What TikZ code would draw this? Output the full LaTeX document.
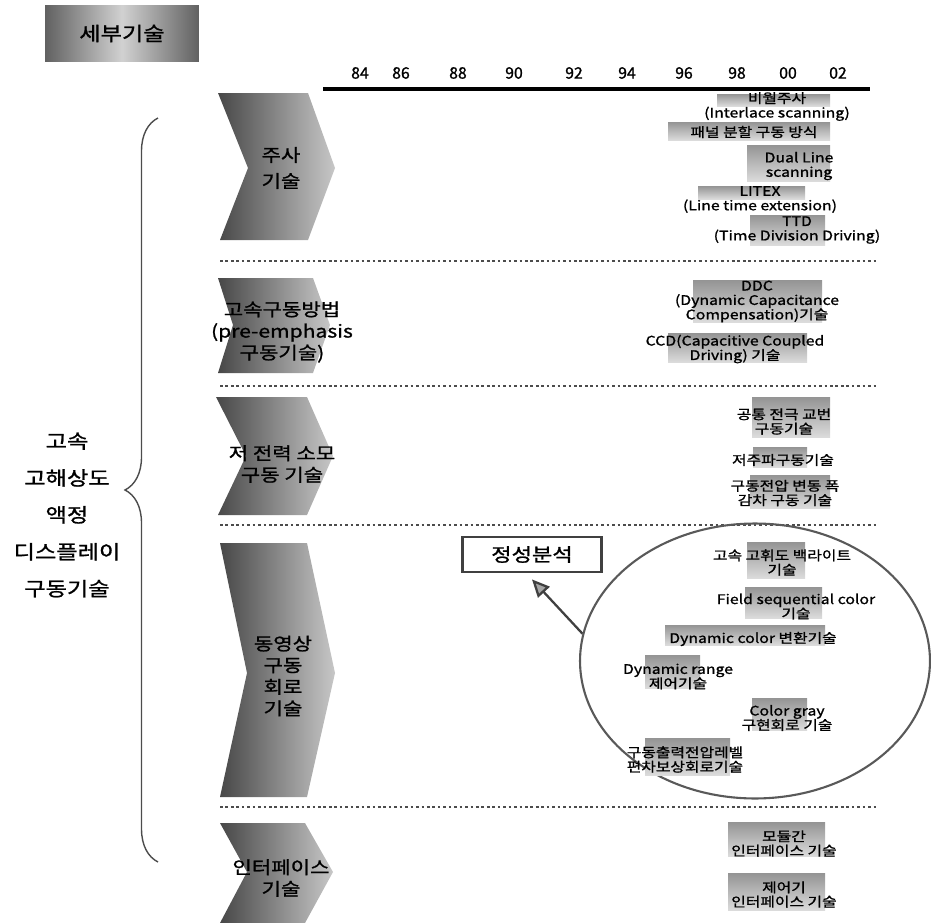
\documentclass[tikz,border=0pt]{standalone}
\usepackage{fontspec}
\setmainfont{Noto Sans CJK KR}[FakeStretch=1.2,FakeBold=1.2]
\newfontfamily\yearfont{Noto Sans CJK KR}[FakeBold=1.2]
\usetikzlibrary{shapes.geometric,arrows.meta,decorations.pathreplacing}

\begin{document}
\begin{tikzpicture}
[x=0.02cm,y=-0.02cm,%
  chevronShade/.style={left color=black!72,right color=black!22},%
  headBox/.style={left color=black!62,right color=black!62,middle color=black!18,%
    minimum width=3.08cm,minimum height=1.14cm,font=\fontsize{11}{13}\selectfont},%
  itemBar/.style={top color=black!42,bottom color=black!14},%
  itemText/.style={align=center,inner sep=0pt,font=\fontsize{7.5}{8.2}\selectfont},%
  chevronText/.style={align=center,inner sep=0pt,font=\fontsize{10}{12.3}\selectfont},%
  topicText/.style={align=center,inner sep=0pt,font=\fontsize{11}{21}\selectfont},%
  yearText/.style={inner sep=0pt,font=\yearfont\fontsize{9}{10}\selectfont},%
  sepDots/.style={black!70,line width=1.2pt,dash pattern=on 1.5pt off 1.6pt},%
  axisLine/.style={line width=1.8pt},%
  braceLine/.style={black!70,line width=0.8pt,decorate,decoration={brace,amplitude=0.66cm}},%
  pointerArrow/.style={-{Triangle[length=10pt,width=9pt,fill=black!35]},black!75,line width=1.3pt}]
\useasboundingbox (0,0) rectangle (931,923);
%% header and year axis
\node[headBox] (headLabel) at (122,33.5) {세부기술};
\draw[axisLine] (323,89) -- (870,89);
\foreach \yr/\xx in {84/360, 86/401, 88/458, 90/514, 92/574, 94/627,
  96/684, 98/737, 00/788, 02/838}
{
  \node[yearText] (yr\yr) at (\xx,73) {\yr};
}
%% left topic with brace
\node[topicText] (driveTopic) at (67,515) {고속\\고해상도\\액정\\디스플레이\\구동기술};
\draw[braceLine] (158,862) -- (158,118);
%% chevrons
\shade[chevronShade] (218,93) -- (308,93) -- (335,168) -- (308,240) --
(220,240) -- (248,168) -- cycle;
\shade[chevronShade] (218,278) -- (313,278) -- (330,325) -- (313,373) --
(218,373) -- (233,325) -- cycle;
\shade[chevronShade] (216,397) -- (307,397) -- (333,456) -- (307,515) --
(218,515) -- (246,456) -- cycle;
\shade[chevronShade] (220,543) -- (307,543) -- (335,673) -- (307,797) --
(220,797) -- (247,673) -- cycle;
\shade[chevronShade] (220,823) -- (305,823) -- (333,872) -- (305,923) --
(220,923) -- (247,872) -- cycle;
\node[chevronText] (scanTech) at (281,168) {주사\\[2.5pt]기술};
\node[chevronText] (fastDrive) at (282,332) {고속구동방법\\(pre-emphasis\\구동기술)};
\node[chevronText] (lowPower) at (282,464) {저 전력 소모\\구동 기술};
\node[chevronText] (motionDrive) at (283,676) {동영상\\구동\\회로\\기술};
\node[chevronText] (interfaceTech) at (281,878) {인터페이스\\기술};
%% separators
\draw[sepDots] (220,261) -- (878,261);
\draw[sepDots] (220,386) -- (878,386);
\draw[sepDots] (220,525) -- (878,525);
\draw[sepDots] (220,807) -- (878,807);
%% scanning items
\fill[itemBar] (717,94) rectangle (830,106);
\node[itemText] (interlaceScan) at (777,106.5) {비월주사\\(Interlace scanning)};
\fill[itemBar] (668,122) rectangle (830,140);
\node[itemText] (panelSplit) at (754,132) {패널 분할 구동 방식};
\fill[itemBar] (747,145) rectangle (830,181);
\node[itemText] (dualLine) at (799,166) {Dual Line\\scanning};
\fill[itemBar] (698,186) rectangle (805,199);
\node[itemText] (litex) at (760,199.5) {LITEX\\(Line time extension)};
\fill[itemBar] (750,215) rectangle (825,245);
\node[itemText] (ttd) at (797,230) {TTD\\(Time Division Driving)};
%% pre-emphasis items
\fill[itemBar] (693,280) rectangle (822,322);
\node[itemText] (ddc) at (757,301.5) {DDC\\(Dynamic Capacitance\\Compensation)기술};
\fill[itemBar] (668,333) rectangle (807,362);
\node[itemText] (ccd) at (735,349) {CCD(Capacitive Coupled\\Driving) 기술};
%% low power items
\fill[itemBar] (752,397) rectangle (830,437);
\node[itemText] (commonElec) at (784,421.5) {공통 전극 교번\\구동기술};
\fill[itemBar] (753,447) rectangle (807,467);
\node[itemText] (lowFreq) at (783,460) {저주파구동기술};
\fill[itemBar] (750,475) rectangle (830,508);
\node[itemText] (voltSwing) at (785,493) {구동전압 변동 폭\\감차 구동 기술};
%% motion picture items
\node[ellipse,draw=black!65,line width=1.2pt,minimum width=7cm,
  minimum height=5.5cm] (motionCircle) at (755,661) {};
\node[draw=black!75,line width=1.6pt,minimum width=2.78cm,
  minimum height=0.7cm,font=\fontsize{10.5}{12}\selectfont] (analysisBox) at (532,554.5) {정성분석};
\draw[pointerArrow] (motionCircle.171) -- ([yshift=-0.12cm]analysisBox.south);
\fill[itemBar] (747,542) rectangle (805,578);
\node[itemText] (backLight) at (782,562.5) {고속 고휘도 백라이트\\기술};
\fill[itemBar] (745,587) rectangle (822,618);
\node[itemText] (fieldSeq) at (796,606.5) {Field sequential color\\기술};
\fill[itemBar] (665,625) rectangle (825,645);
\node[itemText] (dynColor) at (753,639) {Dynamic color 변환기술};
\fill[itemBar] (645,655) rectangle (700,688);
\node[itemText] (dynRange) at (678,676.5) {Dynamic range\\제어기술};
\fill[itemBar] (752,698) rectangle (807,730);
\node[itemText] (colorGray) at (787,718) {Color gray\\구현회로 기술};
\fill[itemBar] (645,738) rectangle (730,775);
\node[itemText] (levelComp) at (685,759.5) {구동출력전압레벨\\편차보상회로기술};
%% interface items
\fill[itemBar] (728,822) rectangle (825,856);
\node[itemText] (moduleIf) at (784,843.5) {모듈간\\인터페이스 기술};
\fill[itemBar] (728,873) rectangle (825,910);
\node[itemText] (ctrlIf) at (784,894.5) {제어기\\인터페이스 기술};
\end{tikzpicture}
\end{document}
